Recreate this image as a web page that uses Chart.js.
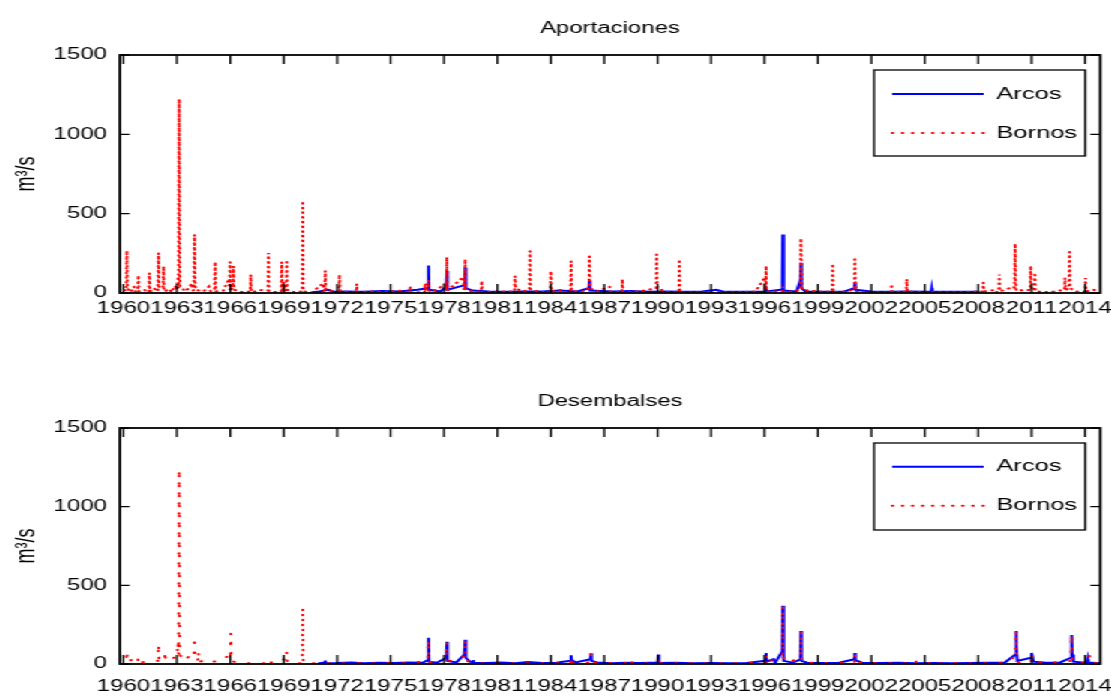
<!DOCTYPE html>
<html>
<head>
<meta charset="utf-8">
<script src="https://cdn.jsdelivr.net/npm/chart.js@4.4.1/dist/chart.umd.min.js"></script>
<style>
  html, body { margin: 0; padding: 0; background: #fff; overflow: hidden; }
  /* the reference figure is stretched sideways, so draw narrow and stretch */
  #figure { position: absolute; left: 0; top: 0; width: 741px; height: 698px;
            transform: scaleX(1.49933); transform-origin: 0 0; }
  #figure canvas { position: absolute; left: 0; }
</style>
</head>
<body>
<div id="figure">
  <canvas id="aportaciones" width="741" height="349" style="top:0px"></canvas>
  <canvas id="desembalses" width="741" height="349" style="top:349px"></canvas>
</div>
<script>
// tick labels
const xTickYears = [1960, 1963, 1966, 1969, 1972, 1975, 1978, 1981, 1984, 1987,
                    1990, 1993, 1996, 1999, 2002, 2005, 2008, 2011, 2014];
const yTicks = [0, 500, 1000, 1500];

// Aportaciones, m3/s  [year, flow]
const aportArcos = [
  [1970.58, 5], [1971.00, 10], [1971.50, 20], [1971.80, 8], [1972.50, 10], [1973.50, 8],
  [1974.50, 12], [1975.50, 10], [1976.50, 20], [1977.10, 30], [1977.13, 174], [1977.16, 20],
  [1977.80, 10], [1978.13, 40], [1978.16, 140], [1978.19, 20], [1979.16, 50], [1979.19, 160],
  [1979.22, 30], [1979.60, 15], [1980.50, 10], [1981.50, 8], [1982.50, 10], [1983.50, 10],
  [1984.50, 15], [1985.50, 10], [1986.14, 30], [1986.17, 75], [1986.20, 15], [1987.50, 10],
  [1988.50, 12], [1989.50, 8], [1990.50, 10], [1991.50, 8], [1992.50, 10], [1993.30, 20],
  [1993.70, 8], [1994.50, 8], [1995.50, 8], [1996.06, 10], [1996.09, 40], [1996.12, 10],
  [1996.90, 20], [1997.00, 20], [1997.03, 369], [1997.06, 60], [1997.10, 15], [1997.80, 10],
  [1998.02, 80], [1998.05, 190], [1998.08, 30], [1998.30, 10], [1999.50, 8], [2000.50, 10],
  [2001.05, 30], [2001.08, 65], [2001.11, 20], [2002.00, 10], [2003.00, 8], [2004.00, 10],
  [2005.36, 8], [2005.39, 30], [2005.42, 8], [2006.50, 8], [2007.50, 8], [2008.10, 8]
];
const aportBornos = [
  [1959.80, 0], [1960.00, 20], [1960.16, 15], [1960.19, 266], [1960.22, 30], [1960.40, 5],
  [1960.60, 40], [1960.65, 10], [1960.81, 15], [1960.84, 111], [1960.87, 10], [1961.20, 20],
  [1961.25, 5], [1961.43, 10], [1961.46, 126], [1961.49, 8], [1961.75, 30], [1961.80, 10],
  [1961.94, 20], [1961.97, 252], [1962.00, 40], [1962.22, 30], [1962.25, 168], [1962.28, 10],
  [1962.60, 25], [1962.70, 5], [1962.90, 45], [1963.00, 20], [1963.08, 120], [1963.10, 30],
  [1963.13, 1222], [1963.15, 470], [1963.18, 40], [1963.50, 10], [1963.85, 60], [1963.90, 15],
  [1963.96, 20], [1963.99, 367], [1964.02, 90], [1964.05, 20], [1964.50, 10], [1964.80, 40],
  [1964.90, 10], [1965.12, 20], [1965.15, 195], [1965.18, 10], [1965.60, 15], [1965.93, 90],
  [1965.96, 20], [1965.99, 195], [1966.02, 60], [1966.06, 20], [1966.15, 40], [1966.18, 168],
  [1966.21, 20], [1966.70, 5], [1967.12, 10], [1967.15, 115], [1967.18, 5], [1967.80, 20],
  [1968.11, 15], [1968.14, 252], [1968.17, 10], [1968.60, 5], [1968.86, 10], [1968.89, 195],
  [1968.92, 20], [1969.00, 70], [1969.05, 10], [1969.14, 30], [1969.17, 195], [1969.20, 20],
  [1969.60, 5], [1970.04, 10], [1970.07, 580], [1970.10, 10], [1970.60, 5], [1971.20, 60],
  [1971.25, 15], [1971.30, 20], [1971.33, 140], [1971.36, 20], [1971.80, 10], [1972.10, 10],
  [1972.13, 115], [1972.16, 15], [1972.60, 5], [1973.07, 5], [1973.10, 57], [1973.13, 5],
  [1974.00, 10], [1974.70, 5], [1975.50, 15], [1976.07, 5], [1976.10, 42], [1976.13, 5],
  [1976.91, 5], [1976.94, 59], [1976.97, 10], [1977.13, 80], [1977.18, 10], [1977.60, 20],
  [1978.08, 60], [1978.13, 15], [1978.16, 226], [1978.19, 15], [1979.08, 100], [1979.13, 20],
  [1979.16, 30], [1979.19, 212], [1979.22, 20], [1979.60, 10], [1980.09, 10], [1980.12, 75],
  [1980.15, 5], [1981.00, 10], [1981.96, 10], [1981.99, 107], [1982.02, 30], [1982.40, 10],
  [1982.80, 20], [1982.83, 264], [1982.86, 20], [1983.50, 5], [1983.97, 10], [1984.00, 138],
  [1984.03, 10], [1984.60, 20], [1984.70, 5], [1985.11, 15], [1985.14, 201], [1985.17, 15],
  [1985.70, 5], [1986.14, 30], [1986.17, 230], [1986.20, 30], [1986.60, 10], [1987.30, 40],
  [1987.35, 10], [1987.99, 5], [1988.02, 86], [1988.05, 5], [1989.00, 10], [1989.92, 30],
  [1989.95, 243], [1989.98, 30], [1990.60, 5], [1991.19, 5], [1991.22, 212], [1991.25, 5],
  [1992.50, 5], [1993.50, 5], [1994.50, 5], [1995.50, 10], [1996.03, 100], [1996.06, 20],
  [1996.09, 170], [1996.12, 10], [1997.00, 10], [1997.03, 40], [1997.06, 10], [1997.50, 10],
  [1998.02, 20], [1998.05, 344], [1998.08, 150], [1998.12, 20], [1999.00, 10], [1999.80, 10],
  [1999.83, 184], [1999.86, 5], [2000.50, 10], [2001.05, 20], [2001.08, 212], [2001.11, 60],
  [2001.15, 10], [2002.00, 5], [2003.11, 5], [2003.14, 55], [2003.17, 5], [2003.96, 10],
  [2003.99, 86], [2004.02, 10], [2005.00, 5], [2006.00, 5], [2007.00, 5], [2008.00, 10],
  [2008.26, 10], [2008.29, 65], [2008.32, 10], [2009.00, 20], [2009.05, 5], [2009.16, 10],
  [2009.19, 117], [2009.22, 10], [2010.00, 40], [2010.04, 20], [2010.07, 310], [2010.10, 80],
  [2010.14, 15], [2010.92, 20], [2010.95, 170], [2010.98, 20], [2011.16, 20], [2011.19, 128],
  [2011.22, 10], [2012.00, 5], [2012.85, 20], [2012.88, 96], [2012.91, 20], [2013.10, 30],
  [2013.13, 258], [2013.16, 30], [2013.50, 10], [2014.00, 10], [2014.03, 94], [2014.06, 10],
  [2014.50, 20], [2014.84, 5]
];

// Desembalses, m3/s  [year, flow]
const desemArcos = [
  [1970.93, 3], [1971.20, 8], [1971.30, 8], [1971.33, 22], [1971.36, 5], [1972.00, 6],
  [1972.80, 10], [1973.50, 5], [1974.30, 8], [1975.20, 6], [1976.00, 10], [1976.80, 8],
  [1977.10, 25], [1977.13, 167], [1977.16, 15], [1977.60, 8], [1978.13, 40], [1978.16, 141],
  [1978.19, 20], [1978.70, 10], [1979.14, 60], [1979.19, 154], [1979.22, 40], [1979.45, 15],
  [1979.61, 10], [1979.64, 25], [1979.67, 8], [1980.40, 6], [1981.20, 10], [1982.00, 5],
  [1982.70, 12], [1983.50, 6], [1984.30, 8], [1985.11, 20], [1985.14, 55], [1985.17, 25],
  [1985.40, 10], [1986.23, 30], [1986.26, 68], [1986.29, 20], [1986.60, 10], [1987.40, 5],
  [1988.20, 8], [1989.00, 6], [1990.01, 10], [1990.04, 60], [1990.07, 6], [1991.00, 8],
  [1992.00, 5], [1993.00, 6], [1994.00, 5], [1995.00, 6], [1996.06, 20], [1996.09, 70],
  [1996.12, 15], [1996.50, 30], [1996.60, 8], [1997.00, 80], [1997.03, 370], [1997.06, 90],
  [1997.10, 20], [1997.60, 8], [1998.02, 30], [1998.05, 209], [1998.08, 20], [1998.40, 8],
  [1999.30, 6], [2000.20, 8], [2001.05, 30], [2001.08, 70], [2001.11, 25], [2001.50, 8],
  [2002.50, 6], [2003.50, 8], [2004.50, 5], [2005.50, 6], [2006.50, 5], [2007.50, 6],
  [2008.50, 8], [2009.50, 10], [2010.09, 60], [2010.12, 209], [2010.15, 120], [2010.20, 20],
  [2010.97, 40], [2011.00, 70], [2011.04, 50], [2011.10, 15], [2011.80, 8], [2012.60, 10],
  [2013.22, 40], [2013.25, 184], [2013.28, 60], [2013.35, 15], [2014.00, 8], [2014.12, 10],
  [2014.15, 30], [2014.18, 10], [2014.84, 5]
];
const desemBornos = [
  [1959.80, 0], [1960.10, 10], [1960.16, 10], [1960.19, 81], [1960.22, 10], [1960.50, 30],
  [1960.80, 5], [1960.83, 38], [1960.86, 5], [1961.40, 20], [1961.94, 20], [1961.97, 124],
  [1962.00, 30], [1962.31, 20], [1962.34, 77], [1962.37, 20], [1962.70, 40], [1963.02, 40],
  [1963.05, 135], [1963.10, 60], [1963.13, 1235], [1963.16, 60], [1963.40, 20], [1963.70, 50],
  [1963.96, 40], [1963.99, 167], [1964.02, 40], [1964.18, 20], [1964.21, 77], [1964.24, 10],
  [1964.60, 30], [1965.00, 15], [1965.50, 20], [1965.97, 60], [1966.00, 40], [1966.03, 194],
  [1966.06, 20], [1966.50, 5], [1967.00, 5], [1967.50, 5], [1968.25, 5], [1968.28, 25],
  [1968.31, 5], [1969.00, 30], [1969.14, 20], [1969.17, 77], [1969.20, 10], [1969.60, 5],
  [1970.04, 5], [1970.07, 359], [1970.10, 5], [1970.60, 5], [1971.00, 5], [1972.00, 4],
  [1973.00, 6], [1974.00, 4], [1975.00, 6], [1976.00, 5], [1977.10, 20], [1977.13, 150],
  [1977.16, 10], [1978.13, 30], [1978.16, 141], [1978.19, 15], [1979.16, 50], [1979.19, 154],
  [1979.22, 20], [1980.00, 5], [1981.00, 6], [1982.00, 4], [1983.00, 6], [1984.00, 5],
  [1985.11, 5], [1985.14, 40], [1985.17, 8], [1986.23, 10], [1986.26, 60], [1986.29, 10],
  [1987.50, 5], [1988.52, 5], [1988.55, 26], [1988.58, 5], [1989.50, 5], [1990.01, 5],
  [1990.04, 40], [1990.07, 5], [1991.50, 5], [1993.00, 4], [1994.50, 5], [1996.06, 10],
  [1996.09, 60], [1996.12, 8], [1997.00, 60], [1997.03, 370], [1997.06, 40], [1997.30, 8],
  [1998.02, 40], [1998.05, 209], [1998.08, 10], [1999.50, 6], [2001.05, 8], [2001.08, 65],
  [2001.11, 8], [2002.50, 5], [2004.00, 5], [2004.47, 5], [2004.50, 20], [2004.53, 5],
  [2005.27, 5], [2005.30, 15], [2005.33, 5], [2007.00, 5], [2008.50, 5], [2009.60, 10],
  [2010.09, 50], [2010.12, 209], [2010.15, 60], [2010.20, 10], [2010.97, 10], [2011.00, 65],
  [2011.04, 15], [2012.00, 8], [2012.70, 15], [2013.22, 20], [2013.25, 184], [2013.28, 20],
  [2013.80, 8], [2014.21, 10], [2014.24, 81], [2014.27, 10], [2014.84, 5]
];

// layout, in unstretched canvas units
const W = 741;
const STRETCH = 1111 / W;
const PLOT_LEFT = 120 / STRETCH;
const PLOT_RIGHT = 1100 / STRETCH;
const X_MIN = 1959.8;
const X_MAX = 2014.85;
const FONT = '"Liberation Sans", Arial, Helvetica, sans-serif';

Chart.defaults.font.family = FONT;
Chart.defaults.color = '#000';

const toPoints = (pairs) => pairs.map(p => ({x: p[0], y: p[1]}));

const matlabFrame = {
  id: 'matlabFrame',
  afterLayout(chart, args, opts) {
    const lg = chart.legend;
    if (!lg) return;
    lg.left = opts.legendLeft;
    lg.top = opts.legendTop;
    lg.width = 160;
    lg.height = 110;
    lg.right = lg.left + lg.width;
    lg.bottom = lg.top + lg.height;
  },
  afterDraw(chart, args, opts) {
    const {ctx, chartArea: a, scales: {x, y}} = chart;
    ctx.save();
    ctx.strokeStyle = '#000';
    ctx.setLineDash([]);
    // inward ticks on all four sides
    ctx.lineWidth = 1.3;
    ctx.beginPath();
    x.ticks.forEach(t => {
      const px = x.getPixelForValue(t.value);
      ctx.moveTo(px, a.bottom); ctx.lineTo(px, a.bottom - 9);
      ctx.moveTo(px, a.top); ctx.lineTo(px, a.top + 9);
    });
    y.ticks.forEach(t => {
      const py = y.getPixelForValue(t.value);
      ctx.moveTo(a.left, py); ctx.lineTo(a.left + 6.5, py);
      ctx.moveTo(a.right, py); ctx.lineTo(a.right - 6.5, py);
    });
    ctx.stroke();
    ctx.lineWidth = 1.8;
    ctx.strokeRect(a.left, a.top, a.right - a.left, a.bottom - a.top);
    // legend frame
    const [bx, by, bw, bh] = opts.legendBox;
    ctx.lineWidth = 1.3;
    ctx.strokeRect(bx, by, bw, bh);
    ctx.restore();
  }
};

function makePanel(id, titleText, arcos, bornos, g) {
  return new Chart(document.getElementById(id), {
    type: 'line',
    data: {
      datasets: [
        {label: 'Arcos', data: toPoints(arcos), borderColor: '#0000ff',
         borderWidth: 2, order: 1},
        {label: 'Bornos', data: toPoints(bornos), borderColor: '#ff0000',
         borderWidth: 2, borderDash: g.dash, borderCapStyle: 'round', order: 0}
      ]
    },
    options: {
      responsive: false,
      animation: false,
      devicePixelRatio: 1,
      events: [],
      elements: {point: {radius: 0}, line: {tension: 0}},
      layout: {padding: {left: 0, right: W - PLOT_RIGHT, top: 0, bottom: 0}},
      scales: {
        x: {
          type: 'linear', min: X_MIN, max: X_MAX,
          afterBuildTicks: (s) => { s.ticks = xTickYears.map(v => ({value: v})); },
          ticks: {autoSkip: false, minRotation: 0, maxRotation: 0, padding: g.xLabelPad,
                  font: {size: 16}, callback: (v) => String(v)},
          grid: {display: false, drawTicks: false},
          border: {display: false},
          afterFit: (s) => { s.height = g.xAxisHeight; s.paddingLeft = 0; s.paddingRight = 0; }
        },
        y: {
          min: 0, max: 1500,
          afterBuildTicks: (s) => { s.ticks = yTicks.map(v => ({value: v})); },
          ticks: {padding: 8.6, font: {size: 16}, callback: (v) => String(v)},
          grid: {display: false, drawTicks: false},
          border: {display: false},
          title: {display: true, text: 'm³/s', font: {size: 18}, padding: {top: 7, bottom: 0}},
          afterFit: (s) => { s.width = PLOT_LEFT; s.paddingTop = 0; s.paddingBottom = 0; }
        }
      },
      plugins: {
        title: {display: true, text: titleText, fullSize: false, color: '#000',
                font: {size: 16, weight: 'normal'},
                padding: {top: g.titleTop, bottom: g.titleBottom}},
        legend: {
          position: 'chartArea', align: 'start',
          labels: {
            usePointStyle: true, pointStyle: 'line', pointStyleWidth: 61,
            padding: 22, font: {size: 17}, color: '#000',
            generateLabels: (chart) => chart.data.datasets.map((ds, i) => ({
              text: ds.label, datasetIndex: i, hidden: false,
              strokeStyle: ds.borderColor, fillStyle: ds.borderColor,
              lineWidth: ds.borderWidth, lineCap: ds.borderCapStyle || 'butt',
              lineDash: ds.borderDash ? [0.5, 6.2] : [], pointStyle: 'line', fontColor: '#000'
            }))
          }
        },
        tooltip: {enabled: false},
        matlabFrame: {legendLeft: 573, legendTop: g.legendTop, legendBox: g.legendBox}
      }
    },
    plugins: [matlabFrame]
  });
}

makePanel('aportaciones', 'Aportaciones', aportArcos, aportBornos, {
  dash: [0.5, 4.2], xLabelPad: 6.4, xAxisHeight: 349 - 293,
  titleTop: 18.9, titleBottom: 16.9,
  legendTop: 63.5, legendBox: [582.9, 70, 140.8, 86]
});
makePanel('desembalses', 'Desembalses', desemArcos, desemBornos, {
  dash: [0.5, 9.5], xLabelPad: 12.5, xAxisHeight: 349 - 315,
  titleTop: 42.9, titleBottom: 16.9,
  legendTop: 87.2, legendBox: [582.9, 94, 140.8, 87]
});
</script>
</body>
</html>
